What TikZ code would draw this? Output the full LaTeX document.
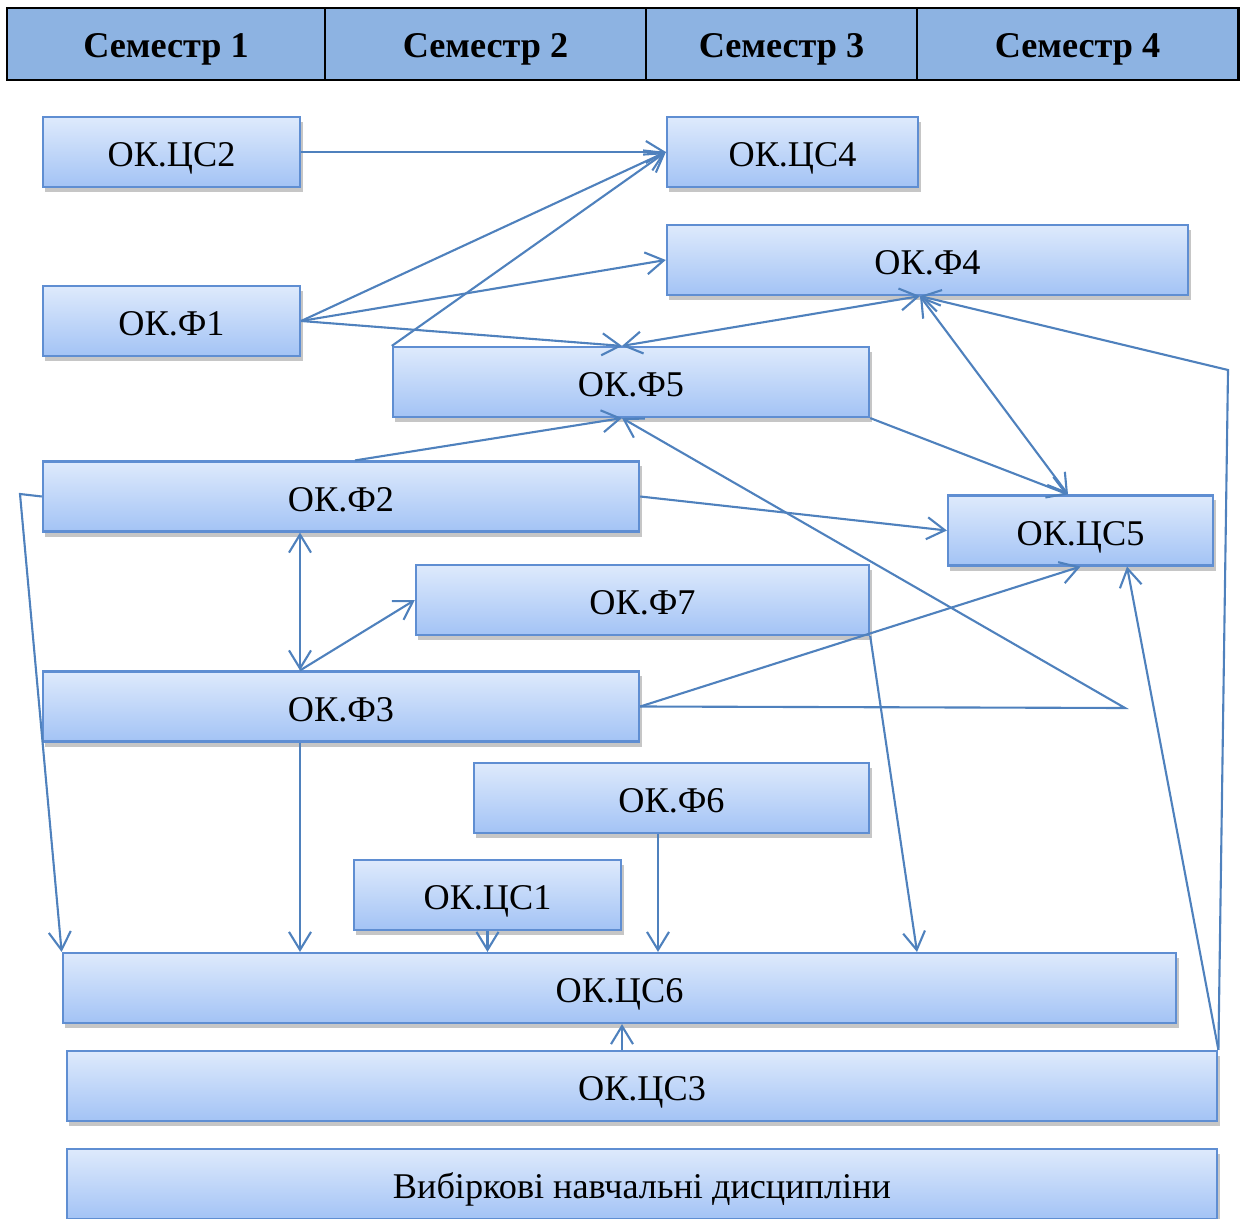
\documentclass[tikz,border=0pt]{standalone}
\usepackage{fontspec}
\setmainfont{Liberation Serif}
\usepackage{tikz}
\usetikzlibrary{arrows.meta, shadows}
\definecolor{headblue}{RGB}{141,179,226}
\definecolor{linkblue}{RGB}{79,129,189}
\definecolor{boxrim}{RGB}{95,142,210}
\definecolor{boxtop}{RGB}{222,234,252}
\definecolor{boxbottom}{RGB}{163,195,245}
\tikzset{
		semester/.style={draw=black, fill=headblue, line width=0.8pt, minimum height=0.72cm, inner sep=0pt,
			text height=2.8mm, text depth=0pt, font=\fontsize{10.3}{12}\selectfont\bfseries},
		subject/.style={draw=boxrim, line width=0.6pt, top color=boxtop, bottom color=boxbottom, minimum height=0.7cm, inner sep=0pt,
			text height=2.9mm, text depth=0pt, font=\fontsize{10.3}{12}\selectfont,
			drop shadow={shadow xshift=0.25mm, shadow yshift=-0.5mm, opacity=0.45}},
		link/.style={linkblue, line width=0.6pt, ->}
	}

\begin{document}
\begin{tikzpicture}[x=0.01cm, y=-0.01cm, >={Straight Barb[length=1.8mm,width=2.2mm]}]
				\useasboundingbox (0,0) rectangle (1243,1219);
				% semesters
				\node[semester, minimum width=3.18cm] (s1) at (166,44)    {Семестр 1};
				\node[semester, minimum width=3.21cm] (s2) at (485.5,44)  {Семестр 2};
				\node[semester, minimum width=2.71cm] (s3) at (781.5,44)  {Семестр 3};
				\node[semester, minimum width=3.21cm] (s4) at (1077.5,44) {Семестр 4};

				% subjects
				\node[subject, minimum width=2.57cm]  (cs2) at (171.5,152)  {ОК.ЦС2};
				\node[subject, minimum width=2.51cm]  (cs4) at (792.5,152)  {ОК.ЦС4};
				\node[subject, minimum width=5.21cm]  (f4)  at (927.5,260)  {ОК.Ф4};
				\node[subject, minimum width=2.57cm]  (f1)  at (171.5,321)  {ОК.Ф1};
				\node[subject, minimum width=4.76cm]  (f5)  at (631,382)    {ОК.Ф5};
				\node[subject, minimum width=5.96cm]  (f2)  at (341,496.5)  {ОК.Ф2};
				\node[subject, minimum width=2.65cm]  (cs5) at (1080.5,530.5) {ОК.ЦС5};
				\node[subject, minimum width=4.53cm]  (f7)  at (642.5,600)  {ОК.Ф7};
				\node[subject, minimum width=5.96cm]  (f3)  at (341,706.5)  {ОК.Ф3};
				\node[subject, minimum width=3.95cm]  (f6)  at (671.5,798)  {ОК.Ф6};
				\node[subject, minimum width=2.67cm]  (cs1) at (487.5,895)  {ОК.ЦС1};
				\node[subject, minimum width=11.13cm] (cs6) at (619.5,988)  {ОК.ЦС6};
				\node[subject, minimum width=11.5cm]  (cs3) at (642,1086)   {ОК.ЦС3};
				\node[subject, minimum width=11.5cm]  (vib) at (642,1184)   {Вибіркові навчальні дисципліни};

				\coordinate (bend1) at (1228,370);
				\coordinate (bend2) at (1125,708);
				\coordinate (bend3) at (20,494);

				\path[link] (cs2.east) edge (cs4.west);
				\path[link] (f1.east) edge (cs4.west);
				\path[link] (f1.east) edge (f4.west);
				\path[link] (f1.east) edge (622,0 |- f5.north);
				\path[link] (f5.north west) edge (cs4.west);
				\path[link] (920,0 |- f4.south) edge [<->] (622,0 |- f5.north);
				\path[link] (920,0 |- f4.south) edge [<->] (1068,0 |- cs5.north);
				\path[link] (f5.south east) edge (1068,0 |- cs5.north);
				\path[link] (355,0 |- f2.north) edge (622,0 |- f5.south);
				\path[link] (f2.east) edge (cs5.west);
				\path[link] (f3.east) edge (cs5.south);
				\path[link] (300,0 |- f2.south) edge [<->] (300,0 |- f3.north);
				\path[link] (300,0 |- f3.north) edge (f7.west);
				\path[link] (300,0 |- f3.south) edge (300,0 |- cs6.north);
				\path[link] (cs1.south) edge (cs1.south |- cs6.north);
				\path[link] (658,0 |- f6.south) edge (658,0 |- cs6.north);
				\path[link] (f7.south east) edge (917,0 |- cs6.north);
				\path[link] (622,0 |- cs3.north) edge (622,0 |- cs6.south);
				\path[link] (cs3.north east) edge (1127,0 |- cs5.south);
				\draw[link] (f3.east) -- (bend2) -- (622,0 |- f5.south);
				\draw[link] (cs3.north east) -- (bend1) -- (920,0 |- f4.south);
				\draw[link] (f2.west) -- (bend3) -- (cs6.north west);
			\end{tikzpicture}
\end{document}
